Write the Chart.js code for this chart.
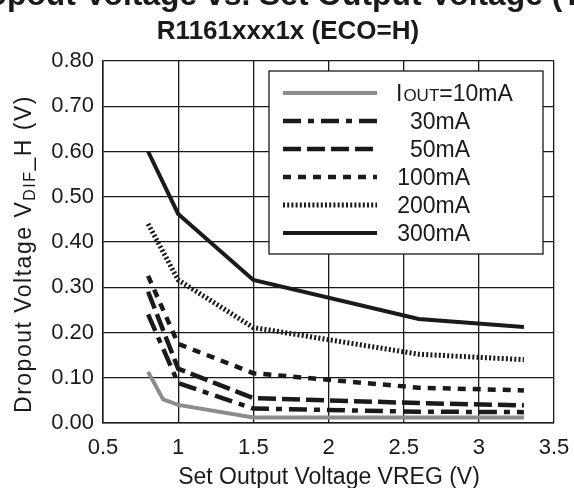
<!DOCTYPE html>
<html>
<head>
<meta charset="utf-8">
<script src="https://cdn.jsdelivr.net/npm/chart.js@4"></script>
<style>
  html, body { margin: 0; padding: 0; background: #fff; }
  #wrap { width: 574px; height: 488px; }
</style>
</head>
<body>
<div id="wrap"><canvas id="c" width="574" height="488"></canvas></div>
<script>
// set output voltage points (V)
const vset = [0.8, 1.0, 1.5, 2.6, 3.3];
const vset10 = [0.8, 0.9, 1.0, 1.5, 2.6, 3.3];

// dropout voltage (V) per load current
const i10 = [0.113, 0.052, 0.040, 0.012, 0.012, 0.012];
const i30 = [0.24, 0.088, 0.032, 0.025, 0.024];
const i50 = [0.29, 0.12, 0.055, 0.044, 0.039];
const i100 = [0.325, 0.175, 0.110, 0.078, 0.072];
const i200 = [0.44, 0.316, 0.211, 0.152, 0.140];
const i300 = [0.60, 0.462, 0.316, 0.230, 0.212];

const seriesLabels = ['10mA', '30mA', '50mA', '100mA', '200mA', '300mA'];
const xTicks = [0.5, 1, 1.5, 2, 2.5, 3, 3.5];
const yTicks = [0, 0.1, 0.2, 0.3, 0.4, 0.5, 0.6, 0.7, 0.8];

const BLACK = '#1a1a1a';
const GRAY = '#8c8c8c';
const FONT = 'Liberation Sans, Arial, sans-serif';

const pts = (xs, ys) => xs.map((x, i) => ({ x: x, y: ys[i] }));

const styles = [
  { color: GRAY, width: 4, dash: [] },
  { color: BLACK, width: 4.5, dash: [18, 7, 6, 7] },
  { color: BLACK, width: 4.5, dash: [18, 6] },
  { color: BLACK, width: 4.5, dash: [8, 7] },
  { color: BLACK, width: 5, dash: [2, 2.2] },
  { color: BLACK, width: 4, dash: [] }
];

const dataSets = [
  pts(vset10, i10), pts(vset, i30), pts(vset, i50),
  pts(vset, i100), pts(vset, i200), pts(vset, i300)
];

const datasets = dataSets.map((d, i) => ({
  label: seriesLabels[i],
  data: d,
  borderColor: styles[i].color,
  borderWidth: styles[i].width,
  borderDash: styles[i].dash,
  pointRadius: 0,
  tension: 0,
  fill: false
}));

// titles, axis labels and the boxed legend
const decorations = {
  id: 'decorations',
  afterDraw(chart) {
    const ctx = chart.ctx;
    ctx.save();
    ctx.fillStyle = BLACK;

    // title (first line is clipped at the page edges)
    ctx.textBaseline = 'alphabetic';
    ctx.textAlign = 'left';
    ctx.font = 'bold 26px ' + FONT;
    const probe = ctx.measureText('pout Voltage vs. Set Output Voltage (').width;
    const size1 = 26 * 555 / probe;
    ctx.font = 'bold ' + size1.toFixed(1) + 'px ' + FONT;
    ctx.fillText('Dropout Voltage vs. Set Output Voltage (Topt=25°C)', 7 - ctx.measureText('Dro').width, 5);
    ctx.font = 'bold 26px ' + FONT;
    ctx.textAlign = 'center';
    ctx.fillText('R1161xxx1x (ECO=H)', 288, 39);

    // x axis title
    ctx.font = '23px ' + FONT;
    ctx.fillText('Set Output Voltage VREG (V)', 329, 484);

    // y axis title with subscript
    ctx.save();
    ctx.translate(31, 254);
    ctx.rotate(-Math.PI / 2);
    ctx.letterSpacing = '1.5px';
    const big = '23px ' + FONT, small = '16px ' + FONT;
    const parts = [['Dropout Voltage V', big, 0], ['DIF', small, 4], ['_H (V)', big, 0]];
    let total = 0;
    parts.forEach(p => { ctx.font = p[1]; total += ctx.measureText(p[0]).width; });
    let x = -total / 2;
    ctx.textAlign = 'left';
    parts.forEach(p => {
      ctx.font = p[1];
      ctx.fillText(p[0], x, p[2]);
      x += ctx.measureText(p[0]).width;
    });
    ctx.restore();

    // legend box
    const bx = 269, by = 71, bw = 274, bh = 183;
    ctx.fillStyle = '#fff';
    ctx.fillRect(bx, by, bw, bh);
    ctx.strokeStyle = BLACK;
    ctx.lineWidth = 1.3;
    ctx.strokeRect(bx, by, bw, bh);

    const rowY = [93, 121, 149, 177, 205, 233];
    styles.forEach((s, i) => {
      ctx.beginPath();
      ctx.strokeStyle = s.color;
      ctx.lineWidth = s.width;
      ctx.setLineDash(s.dash);
      ctx.moveTo(283, rowY[i]);
      ctx.lineTo(377, rowY[i]);
      ctx.stroke();
    });
    ctx.setLineDash([]);
    ctx.fillStyle = BLACK;
    ctx.textBaseline = 'alphabetic';
    ctx.font = '23px ' + FONT;
    // first row: IOUT=10mA
    const base = 8;
    ctx.textAlign = 'left';
    ctx.fillText('I', 396, rowY[0] + base);
    let lx = 396 + ctx.measureText('I').width + 1;
    ctx.font = '17px ' + FONT;
    ctx.fillText('OUT', lx, rowY[0] + base);
    lx += ctx.measureText('OUT').width;
    ctx.font = '23px ' + FONT;
    ctx.fillText('=' + seriesLabels[0], lx, rowY[0] + base);
    ctx.textAlign = 'right';
    for (let i = 1; i < seriesLabels.length; i++) {
      ctx.fillText(seriesLabels[i], 470, rowY[i] + base);
    }
    ctx.restore();
  }
};

new Chart(document.getElementById('c'), {
  type: 'line',
  data: { datasets: datasets },
  options: {
    responsive: false,
    animation: false,
    layout: { padding: { top: 61, right: 20, left: 0, bottom: 0 } },
    plugins: {
      legend: { display: false },
      tooltip: { enabled: false },
      title: { display: false }
    },
    scales: {
      x: {
        type: 'linear',
        min: 0.5,
        max: 3.5,
        afterBuildTicks: s => { s.ticks = xTicks.map(v => ({ value: v })); },
        afterFit: s => { s.height = 65; s.paddingLeft = 0; s.paddingRight = 0; },
        grid: { color: BLACK, lineWidth: 1.3, drawTicks: false },
        border: { color: BLACK, width: 1.5 },
        ticks: {
          color: BLACK,
          font: { family: FONT, size: 22 },
          padding: 12,
          maxRotation: 0,
          callback: v => String(v)
        }
      },
      y: {
        type: 'linear',
        min: 0,
        max: 0.8,
        afterBuildTicks: s => { s.ticks = yTicks.map(v => ({ value: v })); },
        afterFit: s => { s.width = 103; s.paddingTop = 0; s.paddingBottom = 0; },
        grid: { color: BLACK, lineWidth: 1.3, drawTicks: false },
        border: { color: BLACK, width: 1.5 },
        ticks: {
          color: BLACK,
          font: { family: FONT, size: 22 },
          padding: 9,
          callback: v => v.toFixed(2)
        }
      }
    }
  },
  plugins: [decorations]
});
</script>
</body>
</html>
